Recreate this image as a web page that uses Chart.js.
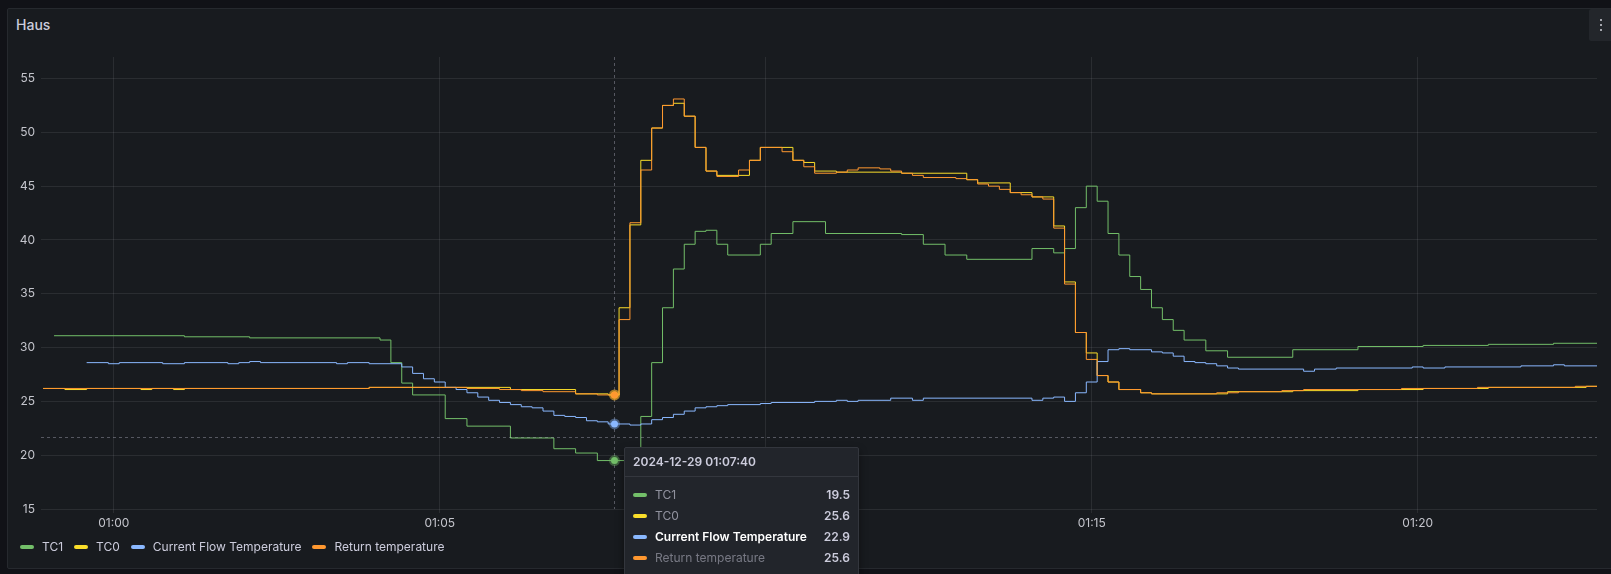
<!DOCTYPE html>
<html>
<head>
<meta charset="utf-8">
<script src="https://cdn.jsdelivr.net/npm/chart.js@4.4.1/dist/chart.umd.min.js"></script>
<style>
  html, body { margin: 0; padding: 0; background: #111217; width: 1611px; height: 574px; overflow: hidden; font-family: Inter, "Noto Sans", sans-serif; }
  .panel { position: absolute; left: 7px; top: 8px; width: 1610px; height: 561px; box-sizing: border-box; background: #181b1f; border: 1px solid #26292e; border-radius: 2px; }
  .title { position: absolute; left: 16px; top: 16px; font-size: 14px; line-height: 18px; font-weight: 500; color: #ccccdc; }
  .menu { position: absolute; left: 1589px; top: 9px; width: 30px; height: 32px; background: #23262b; border-radius: 2px; }
  .menu i { position: absolute; left: 11px; width: 2px; height: 2px; background: #a4a6ad; }
  #chart { position: absolute; left: 0; top: 0; }
  .legend { position: absolute; left: 20px; top: 539px; display: flex; align-items: center; font-size: 12px; line-height: 16px; color: #ccccdc; }
  .legend .item { display: flex; align-items: center; margin-right: 11px; }
  .sw { display: inline-block; width: 14px; height: 4px; border-radius: 2px; margin-right: 8px; }
  .tip { position: absolute; width: 235px; height: 150px; box-sizing: border-box; background: #22252b; border: 1px solid #33363d; border-radius: 2px; box-shadow: 0 4px 8px rgba(0,0,0,0.45); color: #ccccdc; font-size: 12px; }
  .tip .head { height: 28px; line-height: 28px; padding: 0 8px; font-weight: 600; border-bottom: 1px solid #34373e; }
  .tip .body { padding: 7px 8px 0 8px; }
  .tip .row { display: flex; align-items: center; height: 21px; }
  .tip .lab { flex: 1; color: rgba(204,204,220,0.65); }
  .tip .lab.on { color: #ffffff; font-weight: 600; }
  .tip .lab.dim { color: rgba(204,204,220,0.5); }
  .tip .val { font-weight: 600; color: #ccccdc; }
</style>
</head>
<body>
<div class="panel"></div>
<div class="title">Haus</div>
<div class="menu"><i style="top:10px"></i><i style="top:15px"></i><i style="top:20px"></i></div>
<canvas id="chart" width="1611" height="574"></canvas>
<div class="legend" id="legend"></div>
<div class="tip" id="tip"></div>
<script>
// series as [time, value] change points (values hold until the next point)
const tc1 = [
  ["00:59:05", 31.1], ["01:01:05", 31.0], ["01:02:05", 30.9], ["01:04:05", 30.7], ["01:04:15", 28.6],
  ["01:04:25", 26.7], ["01:04:35", 25.6], ["01:05:05", 23.4], ["01:05:25", 22.7], ["01:06:05", 21.6],
  ["01:06:45", 20.6], ["01:07:05", 20.2], ["01:07:25", 19.5], ["01:08:05", 23.6], ["01:08:15", 28.6],
  ["01:08:25", 33.7], ["01:08:35", 37.3], ["01:08:45", 39.6], ["01:08:55", 40.8], ["01:09:05", 40.9],
  ["01:09:15", 39.6], ["01:09:25", 38.6], ["01:09:55", 39.6], ["01:10:05", 40.6], ["01:10:25", 41.7],
  ["01:10:55", 40.6], ["01:12:05", 40.5], ["01:12:25", 39.6], ["01:12:45", 38.6], ["01:13:05", 38.2],
  ["01:14:05", 39.2], ["01:14:25", 38.8], ["01:14:35", 39.2], ["01:14:45", 43.0], ["01:14:55", 45.0],
  ["01:15:05", 43.6], ["01:15:15", 40.6], ["01:15:25", 38.6], ["01:15:35", 36.6], ["01:15:45", 35.4],
  ["01:15:55", 33.7], ["01:16:05", 32.6], ["01:16:15", 31.6], ["01:16:25", 30.7], ["01:16:45", 29.7],
  ["01:17:05", 29.1], ["01:18:05", 29.8], ["01:19:05", 30.1], ["01:20:05", 30.2], ["01:21:05", 30.3],
  ["01:22:05", 30.4], ["01:22:45", 30.4]
];
const tc0 = [
  ["00:58:55", 26.2], ["00:59:15", 26.1], ["00:59:35", 26.2], ["01:00:25", 26.1], ["01:00:35", 26.2],
  ["01:00:55", 26.1], ["01:01:05", 26.2], ["01:03:55", 26.3], ["01:06:05", 26.1], ["01:07:05", 25.7],
  ["01:07:35", 25.6], ["01:07:45", 33.7], ["01:07:55", 41.4], ["01:08:05", 47.4], ["01:08:15", 50.4],
  ["01:08:25", 52.5], ["01:08:35", 52.7], ["01:08:45", 51.5], ["01:08:55", 48.6], ["01:09:05", 46.4],
  ["01:09:15", 46.0], ["01:09:45", 47.4], ["01:09:55", 48.6], ["01:10:25", 47.4], ["01:10:35", 47.2],
  ["01:10:45", 46.4], ["01:11:05", 46.3], ["01:12:05", 46.2], ["01:13:05", 45.6], ["01:13:15", 45.3],
  ["01:13:45", 44.4], ["01:14:05", 44.0], ["01:14:25", 41.3], ["01:14:35", 36.1], ["01:14:45", 31.4],
  ["01:14:55", 29.5], ["01:15:05", 27.4], ["01:15:15", 26.8], ["01:15:25", 26.1], ["01:15:45", 25.8],
  ["01:15:55", 25.7], ["01:17:05", 25.9], ["01:18:05", 26.0], ["01:19:05", 26.1], ["01:20:05", 26.2],
  ["01:21:05", 26.3], ["01:22:35", 26.4], ["01:22:45", 26.4]
];
const flow = [
  ["00:59:35", 28.6], ["00:59:55", 28.5], ["01:00:05", 28.6], ["01:00:45", 28.5], ["01:01:05", 28.6],
  ["01:01:45", 28.5], ["01:01:55", 28.6], ["01:02:05", 28.7], ["01:02:15", 28.6], ["01:03:25", 28.5],
  ["01:03:35", 28.6], ["01:03:55", 28.5], ["01:04:25", 28.2], ["01:04:35", 27.6], ["01:04:45", 27.1],
  ["01:04:55", 26.8], ["01:05:05", 26.3], ["01:05:15", 26.1], ["01:05:25", 25.8], ["01:05:35", 25.4],
  ["01:05:45", 25.1], ["01:05:55", 24.9], ["01:06:05", 24.7], ["01:06:15", 24.5], ["01:06:25", 24.4],
  ["01:06:35", 24.1], ["01:06:45", 23.7], ["01:06:55", 23.6], ["01:07:05", 23.5], ["01:07:15", 23.2],
  ["01:07:25", 23.1], ["01:07:35", 22.9], ["01:07:55", 22.8], ["01:08:05", 22.9], ["01:08:15", 23.3],
  ["01:08:25", 23.5], ["01:08:35", 23.8], ["01:08:45", 24.1], ["01:08:55", 24.4], ["01:09:05", 24.5],
  ["01:09:15", 24.6], ["01:09:25", 24.7], ["01:09:55", 24.8], ["01:10:05", 24.9], ["01:10:45", 25.0],
  ["01:11:05", 25.1], ["01:11:15", 25.0], ["01:11:25", 25.1], ["01:11:55", 25.3], ["01:12:15", 25.1],
  ["01:12:25", 25.3], ["01:14:05", 25.1], ["01:14:15", 25.3], ["01:14:25", 25.4], ["01:14:35", 25.0],
  ["01:14:45", 25.8], ["01:14:55", 26.8], ["01:15:05", 28.7], ["01:15:15", 29.8], ["01:15:25", 29.9],
  ["01:15:35", 29.8], ["01:15:55", 29.6], ["01:16:05", 29.5], ["01:16:15", 29.2], ["01:16:25", 28.7],
  ["01:16:35", 28.6], ["01:16:45", 28.5], ["01:16:55", 28.3], ["01:17:05", 28.1], ["01:17:15", 28.0],
  ["01:18:15", 27.8], ["01:18:25", 28.0], ["01:18:45", 28.1], ["01:19:55", 28.2], ["01:20:05", 28.1],
  ["01:20:25", 28.2], ["01:21:35", 28.3], ["01:22:05", 28.4], ["01:22:15", 28.3], ["01:22:45", 28.3]
];
const ret = [
  ["00:58:55", 26.2], ["01:03:55", 26.3], ["01:05:25", 26.2], ["01:05:55", 26.1], ["01:06:15", 26.0],
  ["01:06:35", 25.9], ["01:07:05", 25.7], ["01:07:25", 25.6], ["01:07:45", 32.6], ["01:07:55", 41.6],
  ["01:08:05", 46.5], ["01:08:15", 50.4], ["01:08:25", 52.5], ["01:08:35", 53.1], ["01:08:45", 51.5],
  ["01:08:55", 48.6], ["01:09:05", 46.4], ["01:09:15", 45.9], ["01:09:35", 46.5], ["01:09:45", 47.4],
  ["01:09:55", 48.6], ["01:10:15", 48.2], ["01:10:25", 47.4], ["01:10:35", 46.8], ["01:10:45", 46.2],
  ["01:11:05", 46.3], ["01:11:15", 46.5], ["01:11:25", 46.7], ["01:11:45", 46.6], ["01:11:55", 46.4],
  ["01:12:05", 46.2], ["01:12:15", 46.0], ["01:12:25", 45.8], ["01:12:55", 45.7], ["01:13:05", 45.6],
  ["01:13:15", 45.2], ["01:13:25", 45.0], ["01:13:35", 44.7], ["01:13:45", 44.4], ["01:13:55", 44.2],
  ["01:14:05", 44.0], ["01:14:15", 43.8], ["01:14:25", 41.1], ["01:14:35", 35.9], ["01:14:45", 31.4],
  ["01:14:55", 28.9], ["01:15:05", 27.4], ["01:15:15", 26.8], ["01:15:25", 26.1], ["01:15:45", 25.8],
  ["01:15:55", 25.7], ["01:16:55", 25.8], ["01:17:15", 25.9], ["01:17:55", 26.0], ["01:18:15", 26.1],
  ["01:19:45", 26.2], ["01:20:55", 26.3], ["01:22:25", 26.4], ["01:22:45", 26.4]
];

const seriesNames = ["TC1", "TC0", "Current Flow Temperature", "Return temperature"];
const seriesColors = ["#73bf69", "#fade2a", "#8ab8ff", "#ff9830"];
const seriesData = [tc1, tc0, flow, ret];

const timeStart = "00:58:53";
const timeEnd = "01:22:45";
const xTicks = ["01:00:00", "01:05:00", "01:10:00", "01:15:00", "01:20:00"];
const yMin = 15, yMax = 57, yStep = 5;

const cursorDate = "2024-12-29";
const cursorTime = "01:07:40";
const cursorValue = 21.7;   // y position of the horizontal cursor line
const hoveredSeries = 2;

const toSec = s => { const p = s.split(":").map(Number); return p[0] * 3600 + p[1] * 60 + p[2]; };
const pad = n => String(n).padStart(2, "0");
const fmtTime = v => pad(Math.floor(v / 3600)) + ":" + pad(Math.floor(v / 60) % 60);

function valueAt(data, t) {
  let v = null;
  for (const [time, val] of data) if (toSec(time) <= t) v = val;
  return v;
}

const gridColor = "rgba(204,204,220,0.1)";
const tickColor = "#c4c5cc";
const cursorT = toSec(cursorTime);

const cursorPlugin = {
  id: "cursor",
  afterDatasetsDraw(chart) {
    const { ctx, chartArea: a, scales: { x, y } } = chart;
    const px = Math.round(x.getPixelForValue(cursorT)) + 0.5;
    const py = Math.round(y.getPixelForValue(cursorValue)) + 0.5;
    ctx.save();
    ctx.strokeStyle = "rgba(204,204,220,0.35)";
    ctx.lineWidth = 1;
    ctx.setLineDash([3, 3]);
    ctx.beginPath();
    ctx.moveTo(px, a.top); ctx.lineTo(px, a.bottom);
    ctx.moveTo(a.left, py); ctx.lineTo(a.right, py);
    ctx.stroke();
    ctx.setLineDash([]);
    seriesData.forEach((d, i) => {
      const v = valueAt(d, cursorT);
      const cy = y.getPixelForValue(v);
      ctx.beginPath();
      ctx.arc(px, cy, 5.5, 0, Math.PI * 2);
      ctx.fillStyle = seriesColors[i] + "66";
      ctx.fill();
      ctx.beginPath();
      ctx.arc(px, cy, 3.5, 0, Math.PI * 2);
      ctx.fillStyle = seriesColors[i];
      ctx.fill();
    });
    ctx.restore();
  }
};

const chart = new Chart(document.getElementById("chart"), {
  type: "line",
  data: {
    datasets: seriesData.map((d, i) => ({
      label: seriesNames[i],
      data: d.map(([t, v]) => ({ x: toSec(t), y: v })),
      borderColor: seriesColors[i],
      borderWidth: 1,
      pointRadius: 0,
      stepped: true,
      fill: false,
      order: seriesData.length - i
    }))
  },
  options: {
    responsive: false,
    animation: false,
    events: [],
    layout: { padding: { top: 57, right: 14, bottom: 35, left: 0 } },
    plugins: { legend: { display: false }, tooltip: { enabled: false } },
    scales: {
      x: {
        type: "linear",
        min: toSec(timeStart),
        max: toSec(timeEnd),
        afterBuildTicks: s => { s.ticks = xTicks.map(t => ({ value: toSec(t) })); },
        afterFit: s => { s.height = 30; },
        border: { display: false },
        grid: { color: gridColor, tickColor: gridColor, tickLength: 4 },
        ticks: {
          autoSkip: false, maxRotation: 0, padding: 3,
          color: tickColor, font: { family: "Inter", size: 12 },
          callback: v => fmtTime(v)
        }
      },
      y: {
        min: yMin,
        max: yMax,
        afterFit: s => { s.width = 41; },
        border: { display: false },
        grid: { color: gridColor, drawTicks: false },
        ticks: {
          stepSize: yStep, includeBounds: false, padding: 6,
          color: tickColor, font: { family: "Inter", size: 12 }
        }
      }
    }
  },
  plugins: [cursorPlugin]
});

// legend
const legend = document.getElementById("legend");
seriesNames.forEach((n, i) => {
  const it = document.createElement("div");
  it.className = "item";
  it.innerHTML = '<span class="sw" style="background:' + seriesColors[i] + '"></span>' + n;
  legend.appendChild(it);
});

// hover tooltip
const tip = document.getElementById("tip");
const tx = chart.scales.x.getPixelForValue(cursorT);
const ty = chart.scales.y.getPixelForValue(cursorValue);
tip.style.left = Math.round(tx + 10) + "px";
tip.style.top = Math.round(ty + 10) + "px";
let html = '<div class="head">' + cursorDate + " " + cursorTime + '</div><div class="body">';
seriesNames.forEach((n, i) => {
  const cls = i === hoveredSeries ? "lab on" : (i === seriesNames.length - 1 ? "lab dim" : "lab");
  html += '<div class="row"><span class="sw" style="background:' + seriesColors[i] + '"></span>' +
    '<span class="' + cls + '">' + n + '</span><span class="val">' + valueAt(seriesData[i], cursorT).toFixed(1) + "</span></div>";
});
tip.innerHTML = html + "</div>";
</script>
</body>
</html>
